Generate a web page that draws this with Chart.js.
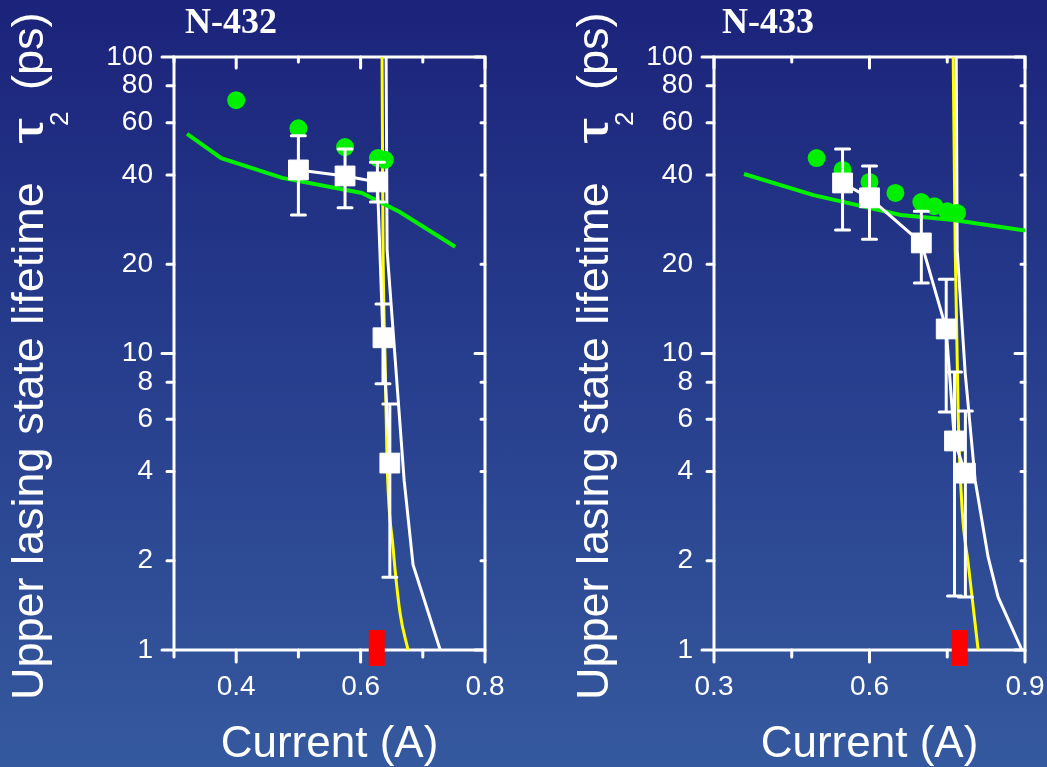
<!DOCTYPE html>
<html>
<head>
<meta charset="utf-8">
<script src="https://cdn.jsdelivr.net/npm/chart.js@4.4.1/dist/chart.umd.min.js"></script>
<style>
  html, body {
    margin: 0; padding: 0; width: 1047px; height: 767px; overflow: hidden;
    background: linear-gradient(to bottom, #1b237a 0%, #263c8c 45%, #35599e 100%);
  }
  canvas { position: absolute; top: 0; }
  #left { left: 0; }
  #right { left: 540px; }
</style>
</head>
<body>
<canvas id="left" width="540" height="767"></canvas>
<canvas id="right" width="507" height="767"></canvas>
<script>
const FONT = '"Liberation Sans", Arial, sans-serif';

// shared log axis ticks (ps)
const yTicks = [1, 2, 4, 6, 8, 10, 20, 40, 60, 80, 100];

// ---- N-432 ----
const xLabels432 = [0.4, 0.6, 0.8];
const xMarks432 = [0.3, 0.4, 0.5, 0.6, 0.7, 0.8];
const fitCurrent432 = [0.321, 0.376, 0.474, 0.602, 0.663, 0.752];
const fitTau432 = [55.0, 45.6, 39.1, 34.8, 30.0, 22.9];
const dotCurrent432 = [0.400, 0.500, 0.575, 0.628, 0.639];
const dotTau432 = [71.5, 57.5, 49.7, 45.6, 45.0];
const sqCurrent432 = [0.500, 0.575, 0.627, 0.636, 0.647];
const sqTau432 = [41.6, 39.7, 37.9, 11.3, 4.27];
const sqHigh432 = [54.2, 48.9, 44.2, 14.7, 6.76];
const sqLow432 = [29.3, 31.0, 32.4, 7.9, 1.76];
const whiteCurrent432 = [0.641, 0.6426, 0.670, 0.6843, 0.728];
const whiteTau432 = [100, 22.3, 3.74, 1.94, 1.0];
const yellowCurrent432 = [0.6345, 0.636, 0.6394, 0.6426, 0.6522, 0.6635, 0.6763];
const yellowTau432 = [100, 24.2, 9.5, 4.27, 2.22, 1.33, 1.0];
const threshold432 = 0.626;

// ---- N-433 ----
const xLabels433 = [0.3, 0.6, 0.9];
const xMarks433 = [0.3, 0.45, 0.6, 0.75, 0.9];
const fitCurrent433 = [0.358, 0.492, 0.660, 0.762, 0.900];
const fitTau433 = [40.3, 34.2, 29.3, 28.2, 26.0];
const dotCurrent433 = [0.498, 0.548, 0.600, 0.650, 0.700, 0.725, 0.750, 0.769];
const dotTau433 = [45.6, 41.6, 37.9, 34.8, 32.4, 31.4, 30.2, 29.8];
const sqCurrent433 = [0.548, 0.600, 0.700, 0.748, 0.764, 0.785];
const sqTau433 = [37.6, 33.5, 23.6, 12.1, 5.07, 3.95];
const sqHigh433 = [48.9, 42.9, 30.2, 17.8, 8.66, 6.4];
const sqLow433 = [26.1, 24.3, 17.3, 6.35, 1.52, 1.51];
const whiteCurrent433 = [0.7673, 0.7692, 0.7846, 0.8038, 0.8288, 0.848, 0.894];
const whiteTau433 = [100, 22.3, 8.6, 3.74, 2.06, 1.51, 1.0];
const yellowCurrent433 = [0.7615, 0.7654, 0.7712, 0.7788, 0.7904, 0.8096];
const yellowTau433 = [100, 22.3, 6.1, 2.96, 1.96, 1.0];
const threshold433 = 0.774;

function xy(xs, ys) {
    return xs.map((x, i) => ({ x: x, y: ys[i] }));
}

// frame, inward/outward ticks, titles, error bars and threshold marker
const panelDecor = {
    id: 'panelDecor',
    beforeDatasetsDraw(chart, args, o) {
        const ctx = chart.ctx;
        const a = chart.chartArea;
        const x = chart.scales.x, y = chart.scales.y;
        ctx.save();
        ctx.strokeStyle = '#fff';
        ctx.lineWidth = 3;
        ctx.lineCap = 'round';
        ctx.strokeRect(a.left, a.top, a.right - a.left, a.bottom - a.top);
        ctx.beginPath();
        o.xMarks.forEach(v => {
            const px = x.getPixelForValue(v);
            const major = o.xLabels.includes(v);
            ctx.moveTo(px, a.bottom); ctx.lineTo(px, a.bottom + (major ? 12 : 7));
            ctx.moveTo(px, a.top); ctx.lineTo(px, a.top + (major ? 11 : 5));
        });
        yTicks.forEach(v => {
            const py = y.getPixelForValue(v);
            const major = Number.isInteger(Math.log10(v));
            ctx.moveTo(a.left, py); ctx.lineTo(a.left - (major ? 12 : 7), py);
            ctx.moveTo(a.right, py); ctx.lineTo(a.right - (major ? 10 : 4), py);
        });
        ctx.stroke();

        ctx.fillStyle = '#fff';
        ctx.font = 'bold 36px "Liberation Serif", "Times New Roman", serif';
        ctx.textBaseline = 'alphabetic';
        ctx.textAlign = 'left';
        ctx.fillText(o.name, o.nameX, 33);

        ctx.font = '44px ' + FONT;
        ctx.textAlign = 'center';
        ctx.fillText('Current (A)', (a.left + a.right) / 2, 757);
        ctx.textAlign = 'left';

        // rotated y-axis title with subscript
        ctx.translate(o.titleX, 700);
        ctx.rotate(-Math.PI / 2);
        ctx.font = '45px ' + FONT;
        ctx.fillText('Upper lasing state lifetime', 0, 0);
        ctx.fillText('(ps)', 610, 0);
        ctx.save();
        ctx.translate(556, 0);
        ctx.scale(1.45, 1);
        ctx.fillText('\u03c4', 0, 0);
        ctx.restore();
        ctx.font = '26px ' + FONT;
        ctx.fillText('2', 574, 25);
        ctx.restore();
    },
    afterDatasetsDraw(chart, args, o) {
        const ctx = chart.ctx;
        const a = chart.chartArea;
        const x = chart.scales.x, y = chart.scales.y;
        ctx.save();
        ctx.strokeStyle = '#fff';
        ctx.lineWidth = 3;
        ctx.lineCap = 'round';
        ctx.beginPath();
        o.sqX.forEach((v, i) => {
            const px = x.getPixelForValue(v);
            const hi = y.getPixelForValue(o.sqHigh[i]);
            const lo = y.getPixelForValue(o.sqLow[i]);
            ctx.moveTo(px, hi); ctx.lineTo(px, lo);
            ctx.moveTo(px - 7, hi); ctx.lineTo(px + 7, hi);
            ctx.moveTo(px - 7, lo); ctx.lineTo(px + 7, lo);
        });
        ctx.stroke();
        const tx = x.getPixelForValue(o.threshold);
        ctx.fillStyle = '#ff0000';
        ctx.fillRect(tx - 8, a.bottom - 20, 16, 36);
        ctx.restore();
    }
};

function makeChart(id, p) {
    return new Chart(document.getElementById(id), {
        type: 'line',
        plugins: [panelDecor],
        data: {
            datasets: [
                {
                    data: xy(p.sqX, p.sqY), borderColor: '#fff', backgroundColor: '#fff',
                    borderWidth: 3, pointStyle: 'rect', pointRadius: 14, pointBorderWidth: 1,
                    tension: 0, order: 0
                },
                {
                    data: xy(p.dotX, p.dotY), showLine: false, pointRadius: 9,
                    pointBackgroundColor: '#00f000', pointBorderWidth: 0, order: 1
                },
                {
                    data: xy(p.fitX, p.fitY), borderColor: '#00f000', borderWidth: 4,
                    pointRadius: 0, tension: 0, order: 2
                },
                {
                    data: xy(p.whiteX, p.whiteY), borderColor: '#fff', borderWidth: 3,
                    pointRadius: 0, tension: 0, order: 3
                },
                {
                    data: xy(p.yellowX, p.yellowY), borderColor: '#ffff00', borderWidth: 3,
                    pointRadius: 0, cubicInterpolationMode: 'monotone', order: 4
                }
            ]
        },
        options: {
            responsive: false,
            animation: false,
            layout: { padding: { left: 0, top: 57, right: p.padRight, bottom: 0 } },
            plugins: {
                legend: { display: false },
                tooltip: { enabled: false },
                panelDecor: {
                    name: p.name, nameX: p.nameX, titleX: p.titleX,
                    xMarks: p.xMarks, xLabels: p.xLabels, threshold: p.threshold,
                    sqX: p.sqX, sqHigh: p.sqHigh, sqLow: p.sqLow
                }
            },
            scales: {
                x: {
                    type: 'linear', min: p.xMin, max: p.xMax,
                    grid: { display: false, drawTicks: false },
                    border: { display: false },
                    afterBuildTicks: s => { s.ticks = p.xLabels.map(v => ({ value: v })); },
                    afterFit: s => { s.height = 117; s.paddingLeft = 0; s.paddingRight = 0; },
                    ticks: {
                        color: '#fff', font: { size: 28, family: FONT }, padding: 20,
                        maxRotation: 0, autoSkip: false, callback: v => v.toFixed(1)
                    }
                },
                y: {
                    type: 'logarithmic', min: 1, max: 100,
                    grid: { display: false, drawTicks: false },
                    border: { display: false },
                    afterBuildTicks: s => { s.ticks = yTicks.map(v => ({ value: v })); },
                    afterFit: s => { s.width = 174; s.paddingTop = 0; s.paddingBottom = 0; },
                    ticks: {
                        color: '#fff', font: { size: 28, family: FONT }, padding: 21,
                        autoSkip: false, callback: v => String(v)
                    }
                }
            }
        }
    });
}

makeChart('left', {
    name: 'N-432', nameX: 185, titleX: 43, padRight: 55,
    xMin: 0.3, xMax: 0.8, xLabels: xLabels432, xMarks: xMarks432,
    fitX: fitCurrent432, fitY: fitTau432,
    dotX: dotCurrent432, dotY: dotTau432,
    sqX: sqCurrent432, sqY: sqTau432, sqHigh: sqHigh432, sqLow: sqLow432,
    whiteX: whiteCurrent432, whiteY: whiteTau432,
    yellowX: yellowCurrent432, yellowY: yellowTau432,
    threshold: threshold432
});

makeChart('right', {
    name: 'N-433', nameX: 182, titleX: 68, padRight: 22,
    xMin: 0.3, xMax: 0.9, xLabels: xLabels433, xMarks: xMarks433,
    fitX: fitCurrent433, fitY: fitTau433,
    dotX: dotCurrent433, dotY: dotTau433,
    sqX: sqCurrent433, sqY: sqTau433, sqHigh: sqHigh433, sqLow: sqLow433,
    whiteX: whiteCurrent433, whiteY: whiteTau433,
    yellowX: yellowCurrent433, yellowY: yellowTau433,
    threshold: threshold433
});
</script>
</body>
</html>
